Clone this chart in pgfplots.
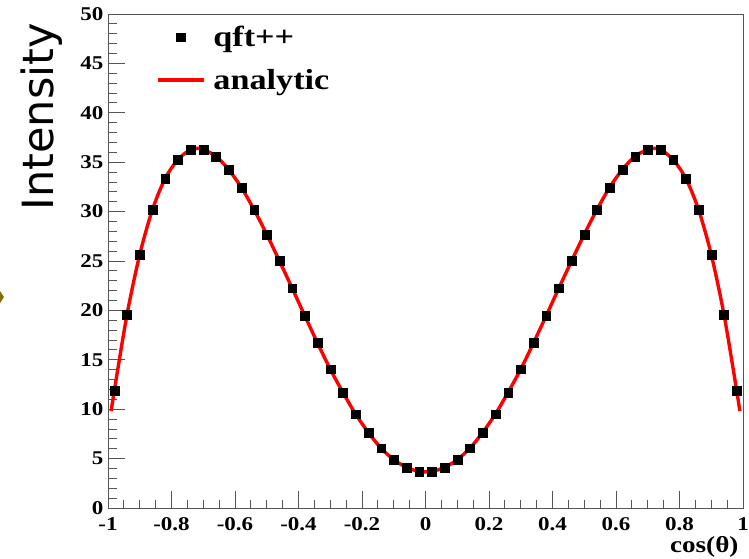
\documentclass[border=0pt]{standalone}
\usepackage{pgfplots}
\pgfplotsset{compat=1.18}
\usepackage{fontspec}
\setmainfont{Liberation Serif}[FakeStretch=1.18]
\newfontfamily\labelfont{DejaVu Sans}
\definecolor{frameGray}{HTML}{555555}
\definecolor{slideOlive}{HTML}{8A6D00}

\begin{document}
\begin{tikzpicture}
\path[use as bounding box] (0,0) rectangle (749pt,558pt);
% small slide arrow cut by the left edge
\fill[slideOlive] (-4pt,261pt) -- (0pt,267pt) -- (4pt,261pt) -- (0pt,255pt) -- cycle;
\begin{axis}[
    at={(108pt,50pt)}, anchor=south west,
    width=635pt, height=494pt, scale only axis,
    xmin=-1, xmax=1, ymin=0, ymax=50,
    xtick={-1,-0.8,-0.6,-0.4,-0.2,0,0.2,0.4,0.6,0.8,1},
    ytick={0,5,10,15,20,25,30,35,40,45,50},
    minor x tick num=3, minor y tick num=4,
    tick pos=left, tick align=inside,
    major tick length=17pt, minor tick length=8.5pt,
    every tick/.style={frameGray, line width=0.9pt},
    axis line style={frameGray, line width=0.9pt},
    /pgf/number format/assume math mode=true,
    tick label style={font=\fontsize{19.5}{20}\selectfont\bfseries},
    xticklabel style={yshift=-6pt},
    yticklabel style={xshift=-1pt},
    xlabel={cos(θ)},
    xlabel style={font=\fontsize{23}{24}\selectfont\bfseries, at={(rel axis cs:1,0)}, anchor=north east, yshift=-25pt, xshift=-1pt},
    ylabel={Intensity},
    ylabel style={font=\labelfont\fontsize{43}{46}\selectfont, at={(rel axis cs:0,0.792)}, anchor=center, yshift=66pt},
    legend style={draw=none, fill=none, at={(rel axis cs:0.08,1)}, anchor=north west,
        xshift=-3pt, yshift=-10pt,
        font=\fontsize{29}{30}\selectfont\bfseries, row sep=17pt, inner sep=0pt,
        cells={anchor=west}},
    legend cell align=left,
]
\addplot[only marks, mark=square*, mark size=4.4pt, black, line width=0.3pt,
    legend image code/.code={\fill[black] (18.6pt,-4.4pt) rectangle (27.4pt,4.4pt);
        \path (0pt,0pt) (52pt,0pt);}] coordinates {
(-0.98,11.9)(-0.94,19.6)(-0.90,25.65)(-0.86,30.2)(-0.82,33.35)(-0.78,35.25)
(-0.74,36.3)(-0.70,36.3)(-0.66,35.6)(-0.62,34.25)(-0.58,32.45)(-0.54,30.2)
(-0.50,27.7)(-0.46,25.0)(-0.42,22.25)(-0.38,19.45)(-0.34,16.7)(-0.30,14.05)
(-0.26,11.7)(-0.22,9.5)(-0.18,7.65)(-0.14,6.05)(-0.10,4.9)(-0.06,4.1)(-0.02,3.7)
(0.02,3.7)(0.06,4.1)(0.10,4.9)(0.14,6.05)(0.18,7.65)(0.22,9.5)(0.26,11.7)
(0.30,14.05)(0.34,16.7)(0.38,19.45)(0.42,22.25)(0.46,25.0)(0.50,27.7)
(0.54,30.2)(0.58,32.45)(0.62,34.25)(0.66,35.6)(0.70,36.3)(0.74,36.3)
(0.78,35.25)(0.82,33.35)(0.86,30.2)(0.90,25.65)(0.94,19.6)(0.98,11.9)
};
\addlegendentry{qft++}
\addplot[red, line width=3.4pt, smooth, tension=0.5,
    legend image code/.code={\draw[red, line width=3.4pt] (0pt,0pt) -- (46pt,0pt);
        \path (0pt,0pt) (52pt,0pt);}] coordinates {
(-0.99,9.8)(-0.98,11.9)(-0.94,19.6)(-0.90,25.65)(-0.86,30.2)(-0.82,33.35)(-0.78,35.25)
(-0.74,36.3)(-0.72,36.4)(-0.70,36.3)(-0.66,35.6)(-0.62,34.25)(-0.58,32.45)(-0.54,30.2)
(-0.50,27.7)(-0.46,25.0)(-0.42,22.25)(-0.38,19.45)(-0.34,16.7)(-0.30,14.05)
(-0.26,11.7)(-0.22,9.5)(-0.18,7.65)(-0.14,6.05)(-0.10,4.9)(-0.06,4.1)(-0.02,3.7)
(0,3.65)
(0.02,3.7)(0.06,4.1)(0.10,4.9)(0.14,6.05)(0.18,7.65)(0.22,9.5)(0.26,11.7)
(0.30,14.05)(0.34,16.7)(0.38,19.45)(0.42,22.25)(0.46,25.0)(0.50,27.7)
(0.54,30.2)(0.58,32.45)(0.62,34.25)(0.66,35.6)(0.70,36.3)(0.72,36.4)(0.74,36.3)
(0.78,35.25)(0.82,33.35)(0.86,30.2)(0.90,25.65)(0.94,19.6)(0.98,11.9)(0.99,9.8)
};
\addlegendentry{analytic}
\end{axis}
\end{tikzpicture}
\end{document}
